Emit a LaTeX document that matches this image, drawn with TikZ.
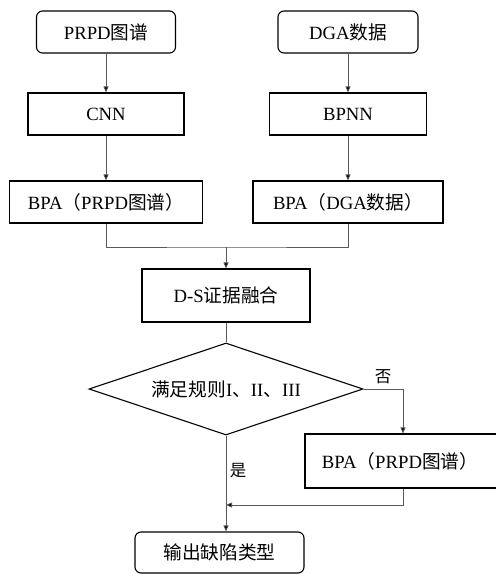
\documentclass[tikz,border=0pt]{standalone}
\usepackage{fontspec}
\setmainfont{Liberation Serif}
\newfontfamily\cjk{Noto Sans CJK SC}
\usetikzlibrary{shapes.geometric,arrows.meta}
\begin{document}
\begin{tikzpicture}[x=1pt,y=-1pt,
  box/.style={draw=black,line width=1.1pt,minimum height=42pt,inner sep=0pt,
    font=\fontsize{18.7}{20}\selectfont},
  rbox/.style={box,rounded corners=6pt},
  conn/.style={draw=black!65,line width=0.8pt},
  arr/.style={conn,-{Triangle[length=6pt,width=5pt,fill=black]}},
  lbl/.style={font=\fontsize{16.5}{18}\selectfont\cjk,inner sep=0pt}]
\useasboundingbox (0,0) rectangle (496,574);
\clip (0,0) rectangle (496,574);
\fill[white] (0,0) rectangle (496,574);
% left column
\node[rbox,minimum width=139pt] (n1) at (106,32) {PRPD{\cjk 图谱}};
\node[box,minimum width=156pt] (cnn) at (106,114) {CNN};
\node[box,minimum width=193pt] (bpa1) at (106,202) {BPA{\cjk （}PRPD{\cjk 图谱）}};
% right column
\node[rbox,minimum width=140pt] (n2) at (348,32) {DGA{\cjk 数据}};
\node[box,minimum width=157pt] (bpnn) at (348,114) {BPNN};
\node[box,minimum width=190pt] (bpa2) at (348,202) {BPA{\cjk （}DGA{\cjk 数据）}};
% fusion
\node[box,minimum width=168pt,minimum height=53pt] (ds) at (226,295.5) {D-S{\cjk 证据融合}};
\node[draw=black,line width=1.1pt,diamond,aspect=2.98,minimum width=274pt,minimum height=92pt,
  inner sep=0pt,font=\fontsize{18.7}{20}\selectfont] (dia) at (226,389) {{\cjk 满足规则}I{\cjk 、}II{\cjk 、}III};
\node[box,minimum width=196pt,minimum height=54pt] (bpa3) at (403,461) {BPA{\cjk （}PRPD{\cjk 图谱）}\hspace*{6pt}};
\node[rbox,minimum width=169pt,minimum height=41pt] (out) at (219.5,552.5) {\cjk 输出缺陷类型};
% connectors
\draw[arr] (n1) -- (cnn);
\draw[arr] (cnn) -- (bpa1);
\draw[arr] (n2) -- (bpnn);
\draw[arr] (bpnn) -- (bpa2);
\coordinate (m) at (226,247);
\draw[conn] (bpa1.south) |- (m) -| (bpa2.south);
\draw[arr] (m) -- (ds.north);
\draw[conn] (ds.south) -- (dia.north);
\draw[arr] (dia.east) -| (bpa3.north);
\coordinate (j2) at (226,505);
\draw[arr] (bpa3.south) |- (j2);
\draw[arr] (dia.south) -- (dia.south |- out.north);
% labels
\node[lbl] (no) at (383,377) {否};
\node[lbl] (yes) at (238,471) {是};
\end{tikzpicture}
\end{document}
